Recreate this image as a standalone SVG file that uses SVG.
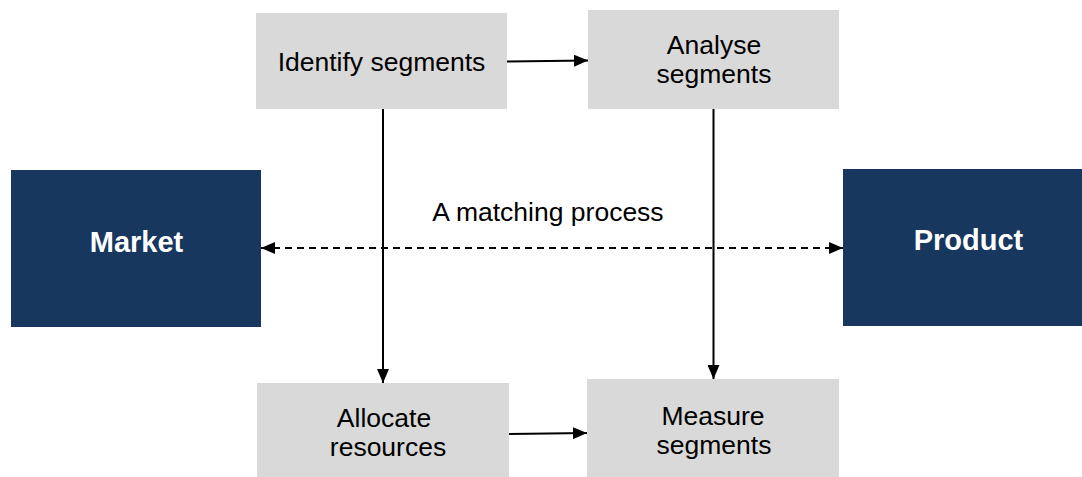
<svg xmlns="http://www.w3.org/2000/svg" width="1082" height="477" viewBox="0 0 1082 477">
<style>
.box{fill:#d9d9d9}
.dark{fill:#17375e}
.t{font-family:"Liberation Sans",Arial,sans-serif;font-size:26.5px;fill:#000;text-anchor:middle}
.b{font-family:"Liberation Sans",Arial,sans-serif;font-size:29px;font-weight:bold;fill:#fff;text-anchor:middle}
.ln{stroke:#000;stroke-width:2;fill:none}
.dash{stroke-dasharray:7 5}
</style>
<defs>
<marker id="ah" viewBox="0 0 14 12" refX="14" refY="6" markerWidth="14" markerHeight="12" markerUnits="userSpaceOnUse" orient="auto-start-reverse">
<path d="M0,0 L14,6 L0,12 Z" fill="#000"/>
</marker>
</defs>
<rect width="1082" height="477" fill="#fff"/>
<g id="identify"><rect class="box" x="256" y="13" width="251" height="96"/><text class="t" x="381.5" y="71">Identify segments</text></g>
<g id="analyse"><rect class="box" x="588" y="10" width="251" height="99"/><text class="t" x="714" y="54">Analyse</text><text class="t" x="714" y="83">segments</text></g>
<g id="market"><rect class="dark" x="11" y="170" width="250" height="157"/><text class="b" x="136.5" y="252">Market</text></g>
<g id="product"><rect class="dark" x="843" y="169" width="239" height="157"/><text class="b" x="968.5" y="250">Product</text></g>
<g id="allocate"><rect class="box" x="257" y="383" width="252" height="94"/><text class="t" x="384" y="427">Allocate</text><text class="t" x="388" y="456">resources</text></g>
<g id="measure"><rect class="box" x="587" y="379" width="252" height="98"/><text class="t" x="713" y="425">Measure</text><text class="t" x="714" y="454">segments</text></g>
<g id="connectors">
<line class="ln" x1="507" y1="61.5" x2="588" y2="60.5" marker-end="url(#ah)"/>
<line class="ln" x1="383" y1="109" x2="383" y2="383" marker-end="url(#ah)"/>
<line class="ln" x1="713.5" y1="109" x2="713.5" y2="379" marker-end="url(#ah)"/>
<line class="ln" x1="509" y1="434" x2="587" y2="433" marker-end="url(#ah)"/>
<line class="ln dash" x1="261" y1="248" x2="843" y2="248" marker-start="url(#ah)" marker-end="url(#ah)"/>
<text class="t" x="548" y="221">A matching process</text>
</g>
</svg>
